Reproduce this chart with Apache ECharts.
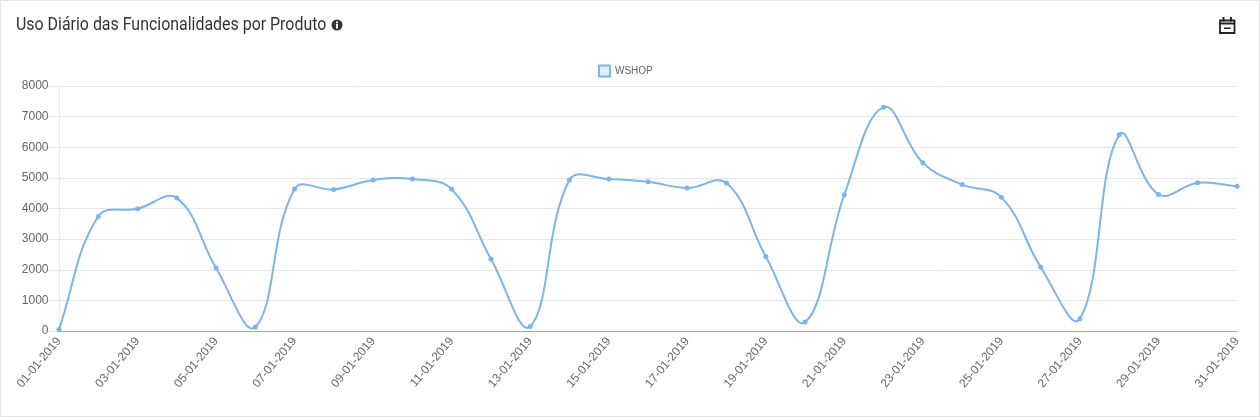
<!DOCTYPE html>
<html><head><meta charset="utf-8">
<style>html,body{margin:0;padding:0;background:#fff}#c{width:1260px;height:417px}</style>
<script src="https://cdn.jsdelivr.net/npm/echarts@6/dist/echarts.min.js"></script>
</head><body><div id="c"></div>
<script>
const categories=["01-01-2019","02-01-2019","03-01-2019","04-01-2019","05-01-2019","06-01-2019","07-01-2019","08-01-2019","09-01-2019","10-01-2019","11-01-2019","12-01-2019","13-01-2019","14-01-2019","15-01-2019","16-01-2019","17-01-2019","18-01-2019","19-01-2019","20-01-2019","21-01-2019","22-01-2019","23-01-2019","24-01-2019","25-01-2019","26-01-2019","27-01-2019","28-01-2019","29-01-2019","30-01-2019","31-01-2019"];
const wshop=[50,3740,3990,4340,2060,130,4640,4620,4930,4960,4630,2350,150,4930,4960,4870,4670,4830,2430,290,4450,7310,5490,4780,4370,2090,400,6410,4460,4840,4730];
const TENSION=0.4;
function controls(api,i){
  const c=api.coord([i,wshop[i]]);
  const p=i>0?api.coord([i-1,wshop[i-1]]):c;
  const n=i<wshop.length-1?api.coord([i+1,wshop[i+1]]):c;
  const d01=Math.hypot(c[0]-p[0],c[1]-p[1]),d12=Math.hypot(n[0]-c[0],n[1]-c[1]),s=(d01+d12)||1;
  const fa=TENSION*d01/s,fb=TENSION*d12/s;
  return {pt:c,
    prev:[c[0]-fa*(n[0]-p[0]),c[1]-fa*(n[1]-p[1])],
    next:[c[0]+fb*(n[0]-p[0]),c[1]+fb*(n[1]-p[1])]};
}
function renderSegment(params,api){
  const i=params.dataIndex;
  if(i>=wshop.length-1) return;
  const a=controls(api,i),b=controls(api,i+1);
  return {type:'bezierCurve',
    shape:{x1:a.pt[0],y1:a.pt[1],x2:b.pt[0],y2:b.pt[1],cpx1:a.next[0],cpy1:a.next[1],cpx2:b.prev[0],cpy2:b.prev[1]},
    style:{stroke:'#7cb5ec',lineWidth:2,fill:'none'},silent:true};
}
const chart=echarts.init(document.getElementById('c'),null,{renderer:'canvas'});
chart.setOption({
 animation:false,
 grid:{left:59,right:23,top:86,bottom:86},
 legend:{top:59.5,left:593,itemWidth:11,itemHeight:11,itemGap:5,
  data:[{name:'WSHOP',icon:'rect',itemStyle:{color:'#e3effb',borderColor:'#7cb5ec',borderWidth:2}}],
  textStyle:{fontFamily:'Liberation Sans',fontSize:10,color:'#666'}},
 xAxis:{type:'category',data:categories,boundaryGap:false,
  axisLine:{lineStyle:{color:'#aaa',width:1}},axisTick:{show:false},
  axisLabel:{interval:1,rotate:50,fontFamily:'Liberation Sans',fontSize:12,color:'#666',margin:8},
  splitLine:{show:false}},
 yAxis:{type:'value',min:0,max:8000,interval:1000,
  axisLine:{show:true,lineStyle:{color:'#e8e8e8'}},axisTick:{show:true,length:10,lineStyle:{color:'#e8e8e8'}},
  axisLabel:{fontFamily:'Liberation Sans',fontSize:12,color:'#666',margin:10.5,formatter:v=>String(v)},
  splitLine:{lineStyle:{color:'#e8e8e8',width:1}}},
 series:[
  {name:'WSHOP-curve',type:'custom',coordinateSystem:'cartesian2d',data:wshop.map((v,i)=>[i,v]),renderItem:renderSegment,silent:true,z:2},
  {name:'WSHOP',type:'line',data:wshop,symbol:'circle',symbolSize:5,showSymbol:true,
   lineStyle:{opacity:0,width:0,color:'#7cb5ec'},itemStyle:{color:'#7cb5ec'},z:3}],
 graphic:[
  {type:'rect',shape:{x:0.5,y:0.5,width:1259,height:416},style:{fill:'none',stroke:'#e4e4e4',lineWidth:1},silent:true},
  {type:'text',x:16,y:16,scaleX:0.885,style:{text:'Uso Diário das Funcionalidades por Produto',font:'18px Roboto',fill:'#333'}},
  {type:'circle',shape:{cx:337,cy:25,r:5.5},style:{fill:'#333'}},
  {type:'rect',shape:{x:336,y:21.5,width:2,height:1.8},style:{fill:'#fff'}},
  {type:'rect',shape:{x:336,y:24,width:2,height:4.5},style:{fill:'#fff'}},
  {type:'rect',shape:{x:1220,y:20.5,width:14.5,height:12.5},style:{fill:'#fff',stroke:'#222',lineWidth:1.8}},
  {type:'rect',shape:{x:1220,y:22.5,width:14.5,height:2},style:{fill:'#222'}},
  {type:'rect',shape:{x:1222.5,y:17,width:2,height:4.5},style:{fill:'#222'}},
  {type:'rect',shape:{x:1230,y:17,width:2,height:4.5},style:{fill:'#222'}},
  {type:'rect',shape:{x:1224,y:27.5,width:6.5,height:1.5},style:{fill:'#222'}}
 ]
});
</script></body></html>
